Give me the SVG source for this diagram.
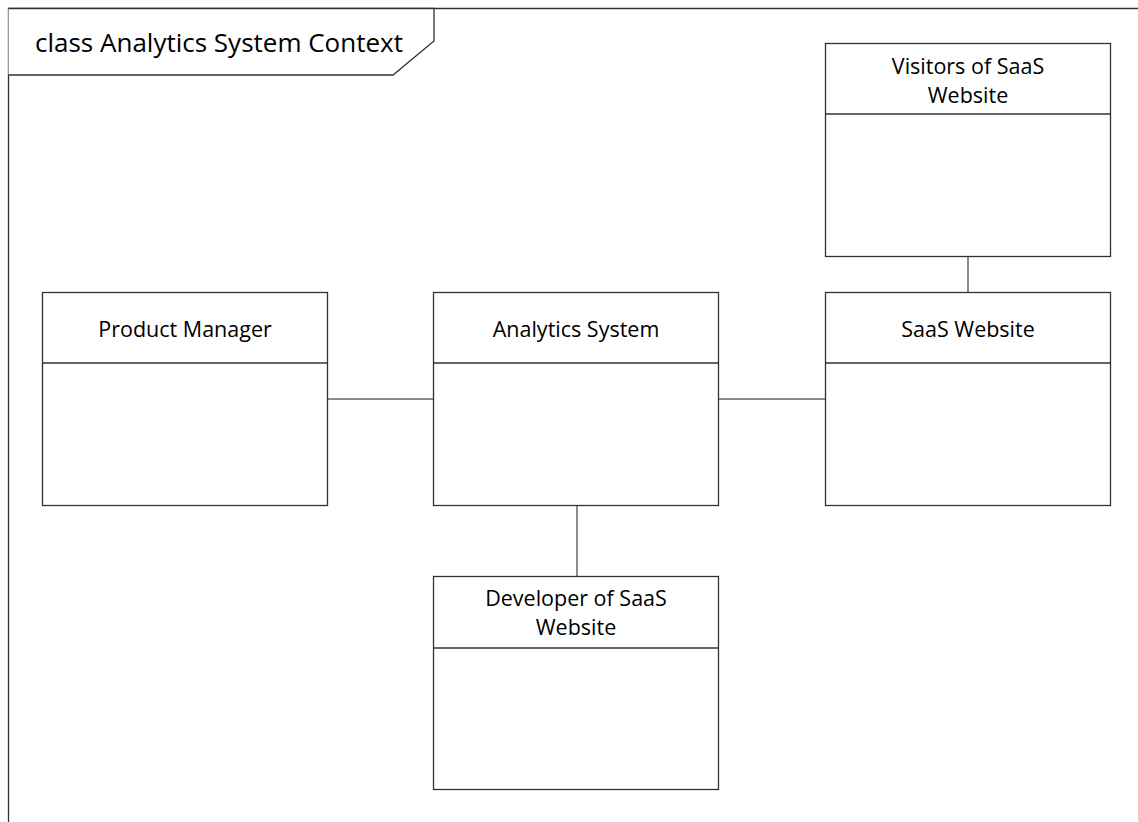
<svg xmlns="http://www.w3.org/2000/svg" width="1138" height="822" viewBox="0 0 1138 822">
<style>
.box{fill:#ffffff;stroke:#333333;stroke-width:1.3}
.div{stroke:#333333;stroke-width:1.3}
.con{stroke:#666666;stroke-width:1.5;fill:none}
.lbl{font-family:"Open Sans","Liberation Sans",sans-serif;font-size:21.5px;fill:#000000;text-anchor:middle}
.title{font-family:"Open Sans","Liberation Sans",sans-serif;font-size:26px;fill:#000000}
</style>
<rect width="1138" height="822" fill="#ffffff"/>
<g id="frame">
<path d="M8.5 822 V8.5 H1138" fill="none" stroke="#333333" stroke-width="1.3"/>
<path d="M8.5 8.5 H434 V41 L393 75 H8.5" fill="#ffffff" stroke="#333333" stroke-width="1.3"/>
<text class="title" x="35" y="52">class Analytics System Context</text>
</g>
<g id="connectors">
<line class="con" x1="327" y1="399" x2="433" y2="399"/>
<line class="con" x1="718" y1="399" x2="826" y2="399"/>
<line class="con" x1="968" y1="256" x2="968" y2="292"/>
<line class="con" x1="577" y1="505" x2="577" y2="576"/>
</g>
<g id="product-manager">
<rect class="box" x="42.5" y="292.5" width="285" height="213"/>
<line class="div" x1="42.5" y1="363" x2="327.5" y2="363"/>
<text class="lbl" x="185" y="337">Product Manager</text>
</g>
<g id="analytics-system">
<rect class="box" x="433.5" y="292.5" width="285" height="213"/>
<line class="div" x1="433.5" y1="363" x2="718.5" y2="363"/>
<text class="lbl" x="576" y="337">Analytics System</text>
</g>
<g id="saas-website">
<rect class="box" x="825.5" y="292.5" width="285" height="213"/>
<line class="div" x1="825.5" y1="363" x2="1110.5" y2="363"/>
<text class="lbl" x="968" y="337">SaaS Website</text>
</g>
<g id="visitors">
<rect class="box" x="825.5" y="43.5" width="285" height="213"/>
<line class="div" x1="825.5" y1="114" x2="1110.5" y2="114"/>
<text class="lbl" x="968" y="74">Visitors of SaaS</text>
<text class="lbl" x="968" y="103">Website</text>
</g>
<g id="developer">
<rect class="box" x="433.5" y="576.5" width="285" height="213"/>
<line class="div" x1="433.5" y1="648" x2="718.5" y2="648"/>
<text class="lbl" x="576" y="606">Developer of SaaS</text>
<text class="lbl" x="576" y="635">Website</text>
</g>
</svg>
